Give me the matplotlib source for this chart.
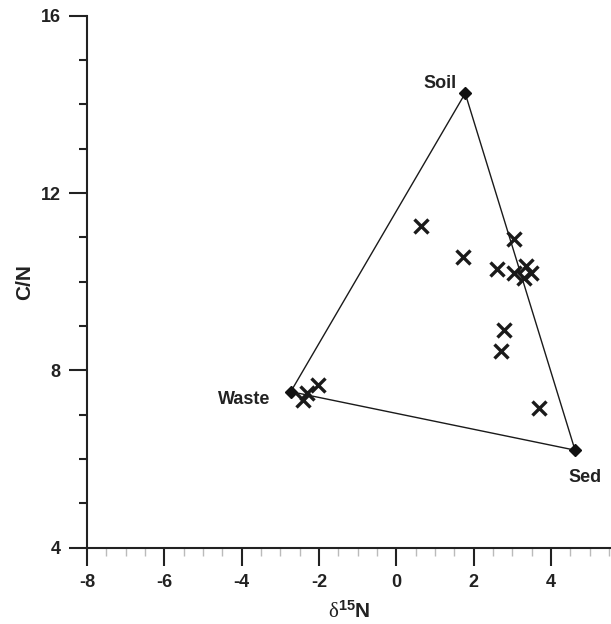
import numpy as np
import matplotlib
matplotlib.use('Agg')
import matplotlib.pyplot as plt
from matplotlib.ticker import MultipleLocator

plt.rcParams['font.family'] = ['Liberation Sans', 'DejaVu Sans']
plt.rcParams['axes.unicode_minus'] = False
plt.rcParams['mathtext.fontset'] = 'custom'
plt.rcParams['mathtext.rm'] = 'Liberation Serif'

# end-member vertices (triangle)
src_names = ['Soil', 'Sed', 'Waste']
src_d15n = [1.78, 4.62, -2.73]
src_cn = [14.25, 6.20, 7.52]

# samples
d15n = [0.63, 1.71, 3.03, 2.59, 3.05, 3.35, 3.30, 3.48, 2.79, 2.70, 3.69, -2.02, -2.30, -2.42]
cn = [11.26, 10.55, 10.97, 10.29, 10.20, 10.35, 10.09, 10.20, 8.92, 8.43, 7.16, 7.68, 7.50, 7.33]

fig = plt.figure(figsize=(6.11, 6.24), dpi=100)
ax = fig.add_axes([0.1424, 0.1223, 0.8576, 0.8525])

# triangle
tx = src_d15n + [src_d15n[0]]
ty = src_cn + [src_cn[0]]
ax.plot(tx, ty, color='#1a1a1a', lw=1.0, zorder=2)
ax.plot(src_d15n, src_cn, linestyle='none', marker='D', ms=6.5, color='#111111', zorder=3)

ax.plot(d15n, cn, linestyle='none', marker='x', ms=10, mew=2.4, color='#1a1a1a', zorder=4)

# vertex labels
ax.text(1.13, 14.48, 'Soil', ha='center', va='center', fontsize=13, fontweight='bold', color='#222222')
ax.text(4.88, 5.59, 'Sed', ha='center', va='center', fontsize=13, fontweight='bold', color='#222222')
ax.text(-3.94, 7.34, 'Waste', ha='center', va='center', fontsize=13, fontweight='bold', color='#222222')

ax.set_xlim(-8, 5.55)
ax.set_ylim(4, 16)
ax.xaxis.set_major_locator(MultipleLocator(2))
ax.xaxis.set_minor_locator(MultipleLocator(0.5))
ax.yaxis.set_major_locator(MultipleLocator(4))
ax.yaxis.set_minor_locator(MultipleLocator(1))

for s in ['top', 'right']:
    ax.spines[s].set_visible(False)
for s in ['left', 'bottom']:
    ax.spines[s].set_linewidth(1.5)
    ax.spines[s].set_color('#222222')

ax.tick_params(which='major', direction='out', length=13, width=1.5, color='#222222',
               labelsize=13, pad=6)
ax.tick_params(axis='x', which='minor', direction='out', length=6, width=1.0, color='#bbbbbb')
ax.tick_params(axis='y', which='minor', direction='out', length=6, width=1.5, color='#222222')
for lab in ax.get_xticklabels() + ax.get_yticklabels():
    lab.set_fontweight('bold')
    lab.set_color('#222222')

ax.set_xlabel(r'$\mathrm{\delta}$$\mathregular{^{15}}$N', fontsize=15, fontweight='bold', color='#222222', labelpad=6)
ax.set_ylabel('C/N', fontsize=15, fontweight='bold', color='#222222', labelpad=5)

fig.savefig('out.png', dpi=100)
